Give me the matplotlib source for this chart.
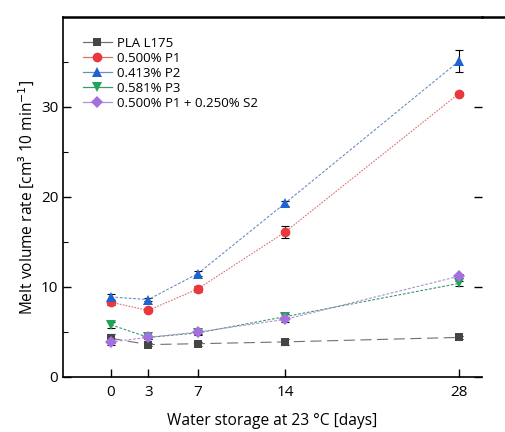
import matplotlib.pyplot as plt
from matplotlib.lines import Line2D
from matplotlib.ticker import FixedLocator

plt.rcParams['font.family'] = ['Open Sans', 'DejaVu Sans']

days = [0, 3, 7, 14, 28]

pla = [4.3, 3.6, 3.7, 3.9, 4.4]
pla_err = [0.5, 0.2, 0.2, 0.3, 0.2]
p1 = [8.3, 7.4, 9.8, 16.1, 31.5]
p1_err = [0.3, 0.2, 0.3, 0.7, 0.2]
p2 = [8.9, 8.6, 11.5, 19.3, 35.1]
p2_err = [0.3, 0.2, 0.3, 0.3, 1.2]
p3 = [5.8, 4.4, 4.9, 6.7, 10.4]
p3_err = [0.3, 0.2, 0.2, 0.3, 0.3]
s2 = [3.9, 4.4, 5.0, 6.4, 11.2]
s2_err = [0.3, 0.2, 0.2, 0.3, 0.2]

labels = ['PLA L175', '0.500% P1', '0.413% P2', '0.581% P3',
          '0.500% P1 + 0.250% S2']
series = [pla, p1, p2, p3, s2]
errors = [pla_err, p1_err, p2_err, p3_err, s2_err]
colors = ['#454545', '#e8383d', '#1f62d2', '#22a35a', '#a56fdf']
line_colors = ['#707070', '#e07070', '#6a8fc0', '#3a9a6a', '#b090d8']
markers = ['s', 'o', '^', 'v', 'D']
sizes = [6, 7, 7, 7, 6]
dashes = [(10, 5), (1.5, 1.2), (2.5, 1.5), (2.5, 1.5), (2.5, 1.5)]

fig = plt.figure(figsize=(5.05, 4.32), dpi=100)
ax = fig.add_axes([63 / 505, 55 / 432, (482 - 63) / 505, (377 - 17) / 432])

for y, e, c, lc, m, s, d in zip(series, errors, colors, line_colors,
                                 markers, sizes, dashes):
    ax.errorbar(days, y, yerr=e, fmt='none', ecolor='black', elinewidth=0.8,
                capsize=3, capthick=0.8, zorder=2)
    ax.plot(days, y, color=lc, lw=0.8, dashes=d, zorder=2.5)
    ax.plot(days, y, color=c, ls='none', marker=m, markersize=s,
            markeredgewidth=0, zorder=3)

handles = [Line2D([], [], color=lc, lw=0.9, marker=m, markersize=s,
                  markerfacecolor=c, markeredgewidth=0)
           for c, lc, m, s in zip(colors, line_colors, markers, sizes)]

ax.set_xlim(-3.86, 29.85)
ax.set_ylim(0, 40)
ax.set_xticks(days)
ax.yaxis.set_major_locator(FixedLocator([0, 10, 20, 30]))
ax.yaxis.set_minor_locator(FixedLocator([5, 15, 25, 35]))
ax.tick_params(axis='both', which='both', direction='in', labelsize=11)
ax.tick_params(axis='y', which='major', length=6, width=1, right=True)
ax.tick_params(axis='y', which='minor', length=3.5, width=0.8, right=False)
ax.tick_params(axis='x', which='major', length=6, width=1, pad=6)
ax.spines['right'].set_visible(False)
for sp in ['left', 'bottom']:
    ax.spines[sp].set_linewidth(1.2)
ax.spines['top'].set_linewidth(1.8)
fig.add_artist(Line2D([482 / 505, 1.0], [415 / 432, 415 / 432],
                      color='black', lw=1.8, transform=fig.transFigure))

ax.set_xlabel('Water storage at 23 °C [days]', fontsize=11.2, labelpad=9)
ax.set_ylabel('Melt volume rate [cm³ 10 min$^{-1}$]', fontsize=11.2, labelpad=3)

ax.legend(handles, labels, loc='upper left', frameon=False, fontsize=9.5,
          handlelength=2.2, labelspacing=0.15, borderaxespad=1.1,
          handletextpad=0.4)

fig.savefig('out.png', dpi=100)
